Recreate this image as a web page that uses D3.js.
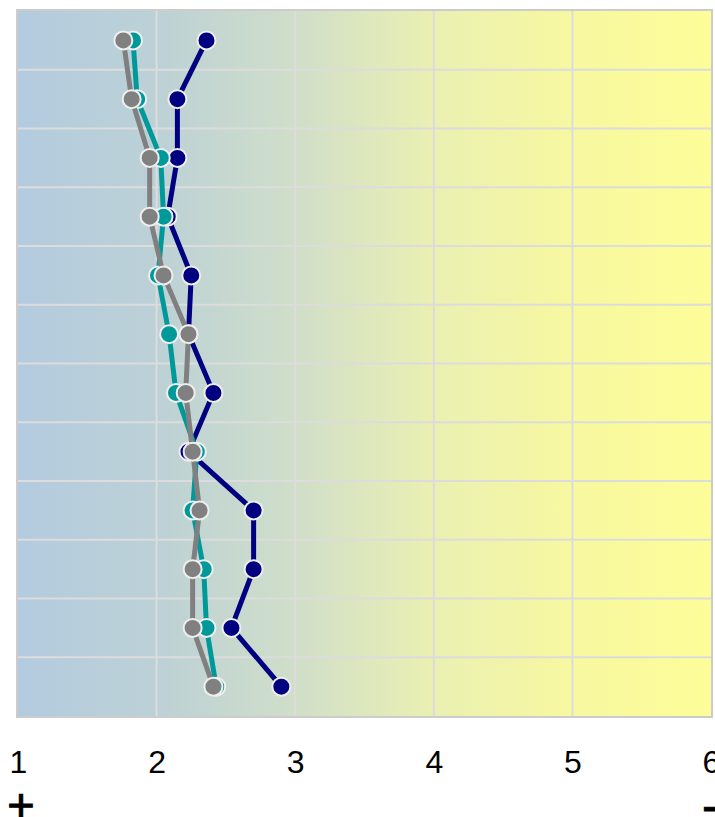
<!DOCTYPE html>
<html>
<head>
<meta charset="utf-8">
<script src="https://cdn.jsdelivr.net/npm/d3@7"></script>
<style>
html,body{margin:0;padding:0;background:#fff;overflow:hidden;}
svg{display:block;font-family:"Liberation Sans",Arial,sans-serif;}
</style>
</head>
<body>
<svg id="chart" width="715" height="817"></svg>
<script>
const categories = ["1","2","3","4","5","6","7","8","9","10","11","12"];
const xTicks = [1,2,3,4,5,6];
const seriesNames = ["A","B","C"];
const seriesColors = ["#000080","#009999","#808080"];
const navyValues = [2.36,2.15,2.15,2.08,2.25,2.23,2.41,2.23,2.70,2.70,2.54,2.90];
const tealValues = [1.83,1.86,2.03,2.05,2.01,2.09,2.14,2.29,2.26,2.34,2.36,2.43];
const grayValues = [1.76,1.82,1.95,1.95,2.05,2.23,2.21,2.26,2.31,2.26,2.26,2.41];
const endLabels = ["+","-"];

const series = [navyValues, tealValues, grayValues].map((v,i)=>({name:seriesNames[i], color:seriesColors[i], values:v}));

const svg = d3.select("#chart");
const L=18, R=711, T=11, B=716;
const x = d3.scaleLinear().domain([1,6]).range([L,R]);
const y = d3.scaleBand().domain(categories).range([T,B]);

const defs = svg.append("defs");
const grad = defs.append("linearGradient").attr("id","bg").attr("x1","0%").attr("x2","100%").attr("y1","0%").attr("y2","0%");
[["0%","#b3cbdf"],["20%","#bcd1d6"],["40%","#d0dec9"],["60%","#eaf0b2"],["80%","#f7f8a0"],["100%","#fdfd99"]]
  .forEach(s=>grad.append("stop").attr("offset",s[0]).attr("stop-color",s[1]));

svg.append("rect").attr("x",L).attr("y",T).attr("width",R-L).attr("height",B-T).attr("fill","url(#bg)");

// vertical grid
svg.append("g").selectAll("line").data(xTicks.slice(1,-1)).join("line")
  .attr("x1",d=>x(d)).attr("x2",d=>x(d)).attr("y1",T).attr("y2",B)
  .attr("stroke","#dcdcdc").attr("stroke-width",2);
// horizontal grid
svg.append("g").selectAll("line").data(categories.slice(1)).join("line")
  .attr("x1",L).attr("x2",R).attr("y1",d=>y(d)).attr("y2",d=>y(d))
  .attr("stroke","#dcdcdc").attr("stroke-width",2);

// border
svg.append("rect").attr("x",L-1).attr("y",T-1).attr("width",R-L+2).attr("height",B-T+2)
  .attr("fill","none").attr("stroke","#cccccc").attr("stroke-width",2);

const line = d3.line().x(d=>x(d.v)).y(d=>y(d.c)+y.bandwidth()/2);
series.forEach(s=>{
  const pts = s.values.map((v,i)=>({v, c:categories[i]}));
  const sg = svg.append("g");
  sg.append("path").datum(pts).attr("d",line).attr("fill","none")
    .attr("stroke",s.color).attr("stroke-width",5).attr("stroke-linejoin","round");
  sg.selectAll("circle").data(pts).join("circle")
    .attr("cx",d=>x(d.v)).attr("cy",d=>y(d.c)+y.bandwidth()/2).attr("r",9)
    .attr("fill",s.color).attr("stroke","#eeeeee").attr("stroke-width",2);
});

// x axis labels
const axis = d3.axisBottom(x).tickValues(xTicks).tickFormat(d3.format("d")).tickSize(0).tickPadding(0);
const ag = svg.append("g").call(axis);
ag.select(".domain").remove();
ag.selectAll("text").attr("dy",null).attr("y",773).attr("font-size",32).attr("fill","#000")
  .attr("font-family","Liberation Sans, Arial, sans-serif");

svg.append("text").attr("x",21).attr("y",821).attr("text-anchor","middle")
  .attr("font-size",47).attr("fill","#000").attr("stroke","#000").attr("stroke-width",1).text(endLabels[0]);
svg.append("text").attr("x",710).attr("y",822).attr("text-anchor","middle")
  .attr("font-size",47).attr("fill","#000").attr("stroke","#000").attr("stroke-width",1).text(endLabels[1]);
</script>
</body>
</html>
